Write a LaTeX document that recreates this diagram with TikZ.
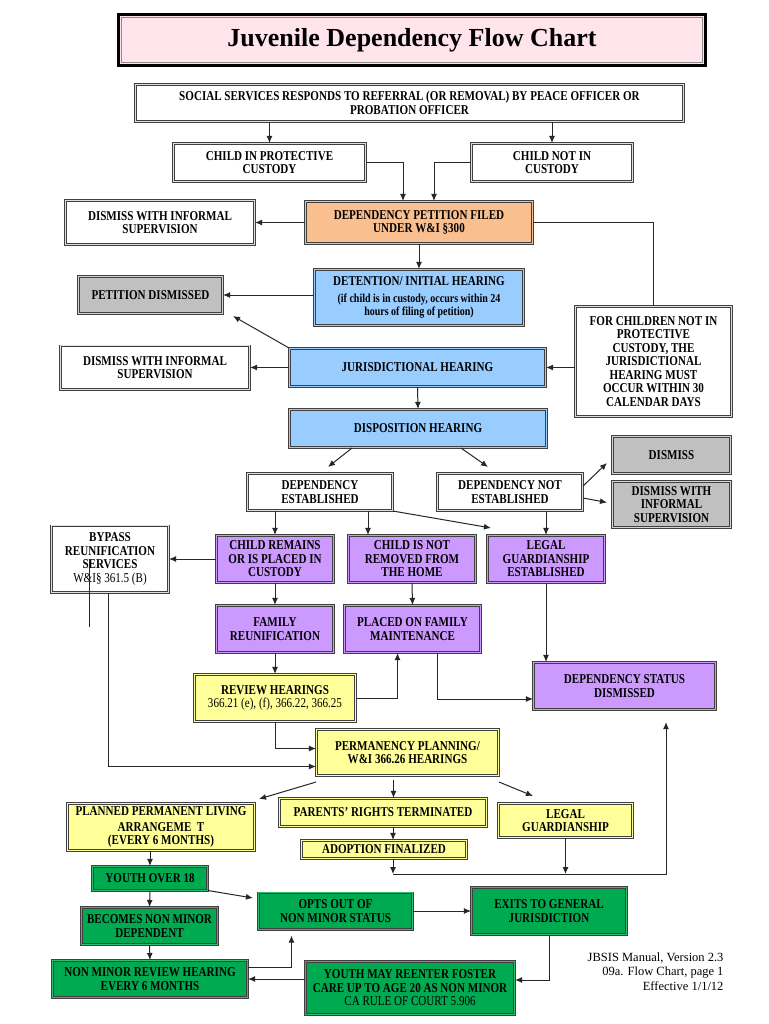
\documentclass[tikz,border=0pt]{standalone}
\usepackage{fontspec}
\setmainfont{Liberation Serif}
\newfontfamily\boxfont{Liberation Serif}[FakeStretch=0.82]
\usetikzlibrary{arrows.meta}
\definecolor{titlepink}{RGB}{255,228,235}
\definecolor{orangefill}{RGB}{250,191,143}
\definecolor{bluefill}{RGB}{153,204,255}
\definecolor{grayfill}{RGB}{192,192,192}
\definecolor{purplefill}{RGB}{204,153,255}
\definecolor{yellowfill}{RGB}{255,255,153}
\definecolor{greenfill}{RGB}{0,170,80}
\newcommand{\subtxt}{\fontsize{12.2}{13}\selectfont}
\begin{document}
\begin{tikzpicture}[x=1pt, y=-1pt, >={Latex[length=7pt,width=6pt]},
  box/.style={rectangle, draw=black!75, line width=0.7pt, double distance=1.2pt, align=center, inner sep=1pt, font=\boxfont\fontsize{13.5}{13.5}\selectfont\bfseries},
  sz/.style 2 args={minimum width={#1pt-2.6pt}, minimum height={#2pt-2.6pt}},
  wnode/.style={box, fill=white, double=black!12},
  onode/.style={box, fill=orangefill, double=orangefill},
  bnode/.style={box, fill=bluefill, double=bluefill},
  gnode/.style={box, fill=grayfill, double=grayfill!70},
  pnode/.style={box, fill=purplefill, double=purplefill},
  ynode/.style={box, fill=yellowfill, double=yellowfill},
  grnode/.style={box, fill=greenfill, double=greenfill!80},
  tnode/.style={rectangle, draw=black, line width=2.5pt, fill=titlepink, font=\fontsize{26}{30}\selectfont\bfseries},
  line/.style={draw=black!85, line width=1pt}]
\useasboundingbox[fill=white] (0,0) rectangle (768,1024);

\node[tnode, sz={590}{54}] (title) at (412,40) {Juvenile Dependency Flow Chart};
\draw[black!45, line width=1pt] ([shift={(4pt,-4pt)}]title.north west) rectangle ([shift={(-4pt,4pt)}]title.south east);

\node[wnode, sz={551}{40}] (social) at (409.5,103) {SOCIAL SERVICES RESPONDS TO REFERRAL (OR REMOVAL) BY PEACE OFFICER OR\\PROBATION OFFICER};
\node[wnode, sz={195}{41}] (cipc) at (269.5,162.5) {CHILD IN PROTECTIVE\\CUSTODY};
\node[wnode, sz={164}{41}] (cnic) at (552,162.5) {CHILD NOT IN\\CUSTODY};
\node[wnode, sz={192}{47}] (dwisa) at (160,222.5) {DISMISS WITH INFORMAL\\SUPERVISION};
\node[onode, sz={230}{45}] (petition) at (419,222.5) {DEPENDENCY PETITION FILED\\UNDER W\&I §300};
\node[gnode, sz={147}{40}] (pdismissed) at (150.5,295) {PETITION DISMISSED};
\node[bnode, sz={212}{59}] (detention) at (419,297.5) {DETENTION/ INITIAL HEARING\\[3pt]\subtxt (if child is in custody, occurs within 24\\\subtxt hours of filing of petition)};
\node[bnode, sz={259}{41}] (juris) at (417.5,367.5) {JURISDICTIONAL HEARING};
\node[wnode, sz={192}{46}] (dwisb) at (155,367.5) {DISMISS WITH INFORMAL\\SUPERVISION};
\node[wnode, sz={159}{113}] (notcust) at (653.5,361.5) {FOR CHILDREN NOT IN\\PROTECTIVE\\CUSTODY, THE\\JURISDICTIONAL\\HEARING MUST\\OCCUR WITHIN 30\\CALENDAR DAYS};
\node[bnode, sz={260}{41}] (disposition) at (418,428.5) {DISPOSITION HEARING};
\node[wnode, sz={148}{40}] (depest) at (320,492) {DEPENDENCY\\ESTABLISHED};
\node[wnode, sz={148}{40}] (depnot) at (510,492) {DEPENDENCY NOT\\ESTABLISHED};
\node[gnode, sz={121}{40}] (dismiss) at (671.5,455) {DISMISS};
\node[gnode, sz={121}{49}] (dwisc) at (671.5,504.5) {DISMISS WITH\\INFORMAL\\SUPERVISION};
\node[wnode, sz={120}{69}] (bypass) at (110,559) {BYPASS\\REUNIFICATION\\SERVICES\\\mdseries W\&I§ 361.5 (B)};
\node[pnode, sz={120}{50}] (remains) at (275,559) {CHILD REMAINS\\OR IS PLACED IN\\CUSTODY};
\node[pnode, sz={130}{50}] (notremoved) at (412,559) {CHILD IS NOT\\REMOVED FROM\\THE HOME};
\node[pnode, sz={120}{50}] (legalest) at (546,559) {LEGAL\\GUARDIANSHIP\\ESTABLISHED};
\node[pnode, sz={120}{50}] (famreun) at (275,629) {FAMILY\\REUNIFICATION};
\node[pnode, sz={139}{50}] (maint) at (412.5,629) {PLACED ON FAMILY\\MAINTENANCE};
\node[ynode, sz={164}{50}] (review) at (275,698) {REVIEW HEARINGS\\\mdseries 366.21 (e), (f), 366.22, 366.25};
\node[pnode, sz={185}{50}] (statusdis) at (624.5,686) {DEPENDENCY STATUS\\DISMISSED};
\node[ynode, sz={185}{49}] (perm) at (407.5,752.5) {PERMANENCY PLANNING/\\W\&I 366.26 HEARINGS};
\node[ynode, sz={190}{50}] (ppla) at (161,827) {PLANNED PERMANENT LIVING\\[2pt]ARRANGEME\ \ T\\(EVERY 6 MONTHS)};
\node[ynode, sz={210}{31}] (rights) at (383,812.5) {PARENTS’ RIGHTS TERMINATED};
\node[ynode, sz={168}{21}] (adoption) at (384,849.5) {ADOPTION FINALIZED};
\node[ynode, sz={137}{37}] (guard) at (565.5,820.5) {LEGAL\\GUARDIANSHIP};
\node[grnode, sz={118}{27}] (over18) at (150,878.5) {YOUTH OVER 18};
\node[grnode, sz={139}{40}] (nonminor) at (149.5,926) {BECOMES NON MINOR\\DEPENDENT};
\node[grnode, sz={198}{40}] (nmreview) at (150,979) {NON MINOR REVIEW HEARING\\EVERY 6 MONTHS};
\node[grnode, sz={157}{39}] (optsout) at (335.5,911) {OPTS OUT OF\\NON MINOR STATUS};
\node[grnode, sz={158}{50}] (exits) at (549,911) {EXITS TO GENERAL\\JURISDICTION};
\node[grnode, sz={212}{56}] (reenter) at (410,988) {YOUTH MAY REENTER FOSTER\\CARE UP TO AGE 20 AS NON MINOR\\\mdseries CA RULE OF COURT 5.906};
\node[anchor=north east, align=right, font=\fontsize{12.5}{14.5}\selectfont] (footer) at (727,949) {JBSIS Manual, Version 2.3\\09a. Flow Chart, page 1\\Effective 1/1/12};
\coordinate (jn) at (666,874);

\draw[line,->] (social.south -| cipc.north) -- (cipc.north);
\draw[line,->] (social.south -| cnic.north) -- (cnic.north);
\draw[line,->] (cipc.east) -| ([xshift=-16pt]petition.north);
\draw[line,->] (cnic.west) -| ([xshift=15pt]petition.north);
\draw[line,->] (petition.west) -- (dwisa.east);
\draw[line] (petition.east) -| (notcust.north);
\draw[line,->] (petition.south) -- (detention.north);
\draw[line,->] (detention.west |- pdismissed) -- (pdismissed.east);
\draw[line,->] (juris.north west) -- ([shift={(10pt,-2pt)}]pdismissed.south east);
\draw[line,->] (juris.west) -- (dwisb.east);
\draw[line,->] (notcust.west |- juris) -- (juris.east);
\draw[line,->] (juris.south) -- (disposition.north);
\draw[line,->] ([xshift=-66pt]disposition.south) -- ([shift={(8pt,6pt)}]depest.north);
\draw[line,->] ([xshift=43pt]disposition.south) -- ([shift={(-22pt,6pt)}]depnot.north);
\draw[line,->] ([yshift=6pt]depnot.east) -- ([shift={(-5pt,-8pt)}]dismiss.west);
\draw[line,->] ([yshift=-6pt]depnot.east) -- ([shift={(-5pt,2pt)}]dwisc.west);
\draw[line,->] (depest.south -| remains.north) -- (remains.north);
\draw[line,->] ([xshift=48pt]depest.south) -- ([xshift=48pt]depest.south |- notremoved.north);
\draw[line,->] (depest.south east) -- ([shift={(4pt,7pt)}]legalest.north west);
\draw[line,->] (depnot.south -| legalest.north) -- (legalest.north);
\draw[line,->] (remains.west) -- (bypass.east);
\draw[line,->] (remains.south) -- (famreun.north);
\draw[line,->] (notremoved.south) -- (maint.north);
\draw[line,->] (legalest.south) -- (legalest.south |- statusdis.north);
\draw[line,->] (famreun.south) -- (review.north);
\draw[line,->] (review.east) -| ([xshift=-15pt]maint.south);
\draw[line,->] ([xshift=25pt]maint.south) |- ([yshift=-13pt]statusdis.west);
\draw[line,->] (review.south) |- ([yshift=4pt]perm.west);
\draw[line,->] ([xshift=-2pt]bypass.south) |- ([yshift=-14pt]perm.west);
\draw[line] ([xshift=-21pt]bypass.center) -- ++(0,68);
\draw[line,->] ([yshift=-6pt]perm.south west) -- ([shift={(4pt,4pt)}]ppla.north east);
\draw[line,->] ([xshift=-14pt,yshift=-4pt]perm.south) -- ([xshift=-14pt]perm.south |- rights.north);
\draw[line,->] ([yshift=-6pt]perm.south east) -- ([shift={(35pt,7pt)}]guard.north west);
\draw[line,->] ([xshift=10pt]rights.south) -- ([xshift=10pt]rights.south |- adoption.north);
\draw[line,->] ([xshift=9pt]adoption.south) -- ([xshift=9pt]adoption.south |- jn);
\draw[line,->] (guard.south) -- (guard.south |- jn);
\draw[line,->] ([xshift=9pt]adoption.south |- jn) -- (jn) -- ([yshift=-12pt]jn |- statusdis.south);
\draw[line,->] (ppla.south -| over18.north) -- (over18.north);
\draw[line,->] ([yshift=-12pt]over18.east) -- ([shift={(-5pt,13pt)}]optsout.west);
\draw[line,->] (over18.south) -- (nonminor.north);
\draw[line,->] (nonminor.south) -- (nmreview.north);
\draw[line,->] (optsout.east) -- (exits.west);
\draw[line,->] ([yshift=12pt]nmreview.east) -| ([xshift=-44pt,yshift=-6pt]optsout.south);
\draw[line,->] (reenter.west |- nmreview) -- (nmreview.east);
\draw[line,->] (exits.south) |- ([yshift=8pt]reenter.east);
\end{tikzpicture}
\end{document}
